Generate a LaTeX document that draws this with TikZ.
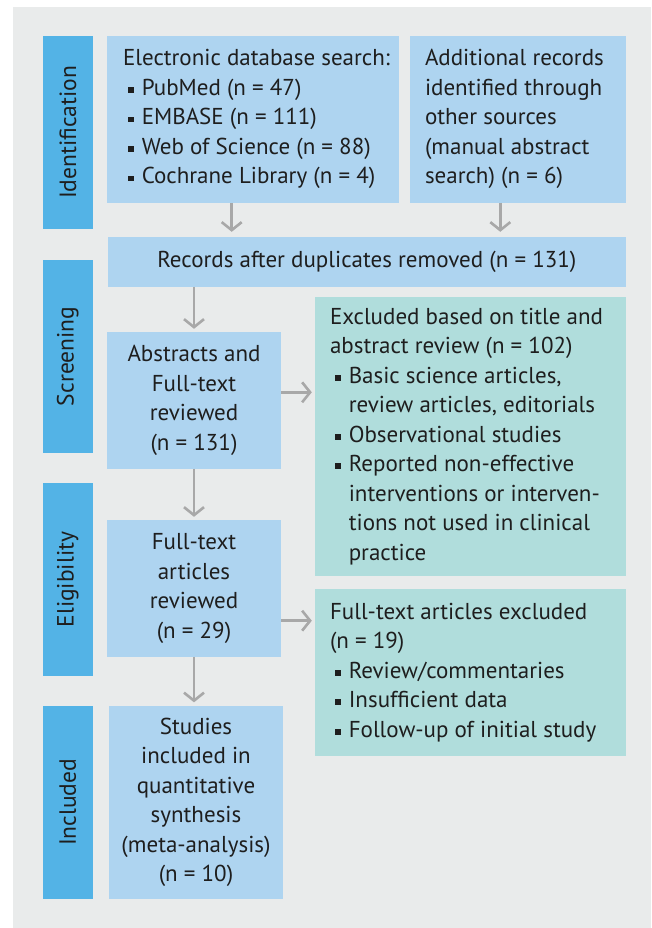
\documentclass[tikz,border=0pt]{standalone}
\usepackage{fontspec}
\setmainfont{PT Sans}
\usetikzlibrary{arrows.meta}
\definecolor{bg}{HTML}{E9EBEB}
\definecolor{barblue}{HTML}{53B3E6}
\definecolor{boxblue}{HTML}{AED4F0}
\definecolor{boxteal}{HTML}{B0DDDC}
\definecolor{arrgray}{HTML}{A8A8A8}
\definecolor{txt}{HTML}{1E1E1E}
\newcommand\bul{\rule[2.6pt]{5.8pt}{5.8pt}}
\newcommand\bitem{\hspace*{5pt}\bul\hspace*{8pt}}
\newcommand\bcont{\hspace*{18.8pt}}
\tikzset{
  txtfont/.style={font=\fontsize{23}{29.5}\selectfont, text=txt},
  box/.style={rectangle, inner sep=0pt, txtfont, align=center},
  bluebox/.style={box, fill=boxblue},
  tealbox/.style={box, fill=boxteal},
  bar/.style={rectangle, inner sep=0pt, fill=barblue, font=\fontsize{23.5}{29.5}\selectfont, text=txt, rotate=90, minimum height=49.7pt},
  lefttext/.style={inner sep=0pt, anchor=west, align=left, txtfont},
  arr/.style={draw=arrgray, line width=2.6pt, -{Straight Barb[length=8pt,width=20pt]}}
}
\begin{document}
\begin{tikzpicture}[x=1pt,y=-1pt]
\useasboundingbox (0,0) rectangle (651,928);
\fill[white] (0,0) rectangle (651,928);
\fill[bg] (13,7) rectangle (651,928);

% phase bars
\node[bar, minimum width=192.7pt] (bId) at (67.85,132.35) {Identification};
\node[bar, minimum width=192.7pt] (bSc) at (67.85,356.35) {Screening};
\node[bar, minimum width=193pt] (bEl) at (67.85,579.5) {Eligibility};
\node[bar, minimum width=192.7pt] (bIn) at (67.85,802.35) {Included};

% boxes
\node[bluebox, minimum width=292pt, minimum height=166.7pt] (elec) at (253,119.35) {};
\node[lefttext] (elect) at ([xshift=16pt]elec.west) {Electronic database search:\\
\bitem PubMed (n = 47)\\
\bitem EMBASE (n = 111)\\
\bitem Web of Science (n = 88)\\
\bitem Cochrane Library (n = 4)};

\node[bluebox, minimum width=215.7pt, minimum height=166.7pt] (addl) at (517.85,119.35) {};
\node[lefttext] (addlt) at ([xshift=15pt]addl.west) {Additional records\\
identified through\\
other sources\\
(manual abstract\\
search) (n = 6)};

\node[bluebox, minimum width=517.7pt, minimum height=49.7pt] (rec) at (366.85,261.85) {Records after duplicates removed (n = 131)};

\node[bluebox, minimum width=174pt, minimum height=136.7pt] (abs) at (194,400.35) {Abstracts and\\Full-text\\reviewed\\(n = 131)};

\node[tealbox, minimum width=310.7pt, minimum height=278.7pt] (ex1) at (470.35,436.35) {};
\node[lefttext] (ex1t) at ([xshift=15pt]ex1.west) {Excluded based on title and\\
abstract review (n = 102)\\
\bitem Basic science articles,\\
\bcont review articles, editorials\\
\bitem Observational studies\\
\bitem Reported non-effective\\
\bcont interventions or interven-\\
\bcont tions not used in clinical\\
\bcont practice};

\node[bluebox, minimum width=174pt, minimum height=136.7pt] (ft) at (194,588.35) {Full-text\\articles\\reviewed\\(n = 29)};

\node[tealbox, minimum width=310.7pt, minimum height=166.7pt] (ex2) at (470.35,672.35) {};
\node[lefttext] (ex2t) at ([xshift=15pt]ex2.west) {Full-text articles excluded\\
(n = 19)\\
\bitem Review/commentaries\\
\bitem Insufficient data\\
\bitem Follow-up of initial study};

\node[bluebox, minimum width=174pt, minimum height=192.7pt] (st) at (196,802.35) {Studies\\included in\\quantitative\\synthesis\\(meta-analysis)\\(n = 10)};

% connectors
\coordinate (ax1) at (231.7,0);
\coordinate (ax2) at (500.3,0);
\coordinate (ay1) at (0,392.3);
\coordinate (ay2) at (0,620.7);
\draw[arr, shorten >=5pt] (ax1 |- elec.south) -- (ax1 |- rec.north);
\draw[arr, shorten >=5pt] (ax2 |- addl.south) -- (ax2 |- rec.north);
\draw[arr, shorten >=3pt] (rec.south -| abs.north) -- (abs.north);
\draw[arr, shorten >=3pt] (abs.south) -- (ft.north);
\draw[arr, shorten >=3.5pt] (ft.south) -- (ft.south |- st.north);
\draw[arr, shorten >=3pt] (abs.east |- ay1) -- (ex1.west |- ay1);
\draw[arr, shorten >=3pt] (ft.east |- ay2) -- (ex2.west |- ay2);
\end{tikzpicture}
\end{document}
